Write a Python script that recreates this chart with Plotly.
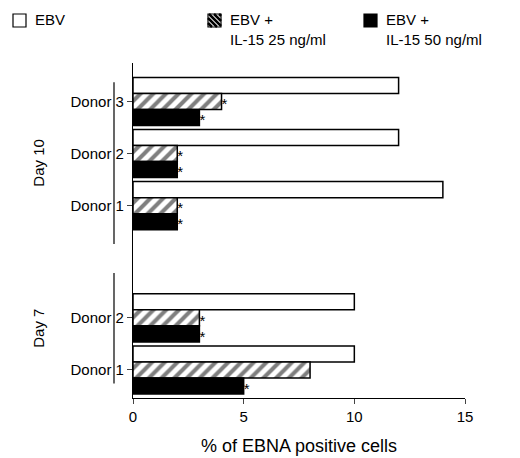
import plotly.graph_objects as go

# bottom to top: Day 7 Donor 1, Day 7 Donor 2, Day 10 Donor 1, Donor 2, Donor 3
donors = ["Donor 1", "Donor 2", "Donor 1", "Donor 2", "Donor 3"]
ebv = [10, 10, 14, 12, 12]
il15_25 = [8, 3, 2, 2, 4]
il15_50 = [5, 3, 2, 2, 3]
star_25 = [False, True, True, True, True]
star_50 = [True, True, True, True, True]
legend_names = ["EBV", "EBV +<br>IL-15 25 ng/ml", "EBV +<br>IL-15 50 ng/ml"]

# group centre positions on the y axis (1 unit = one bar)
centers = [1.75, 5.0, 12.0, 15.25, 18.5]

L, T, W, H = 125, 55, 332, 335


def px(x):
    return (x - L) / W


def py(y):
    return (T + H - y) / H


fig = go.Figure()
line = dict(color="black", width=1.5)
fig.add_bar(y=[c + 1 for c in centers], x=ebv, orientation="h", width=1,
            marker=dict(color="white", line=line))
fig.add_bar(y=centers, x=il15_25, orientation="h", width=1,
            marker=dict(color="white", line=line,
                        pattern=dict(shape="/", fgcolor="black", bgcolor="white",
                                     size=9, solidity=0.45)))
fig.add_bar(y=[c - 1 for c in centers], x=il15_50, orientation="h", width=1,
            marker=dict(color="black", line=line))

sx, sy = [], []
for c, v, s in zip(centers, il15_25, star_25):
    if s:
        sx.append(v); sy.append(c - 0.25)
for c, v, s in zip(centers, il15_50, star_50):
    if s:
        sx.append(v); sy.append(c - 1.25)
fig.add_scatter(x=sx, y=sy, mode="text", text=["*"] * len(sx),
                textposition="middle right", textfont=dict(size=15, color="black"),
                hoverinfo="skip")

# Day brackets
for lab, y0, y1 in [("Day 7", 0.9, 7.8), ("Day 10", 9.6, 19.7)]:
    fig.add_shape(type="line", xref="paper", x0=px(106), x1=px(106), y0=y0, y1=y1,
                  line=dict(color="black", width=1.2))
    fig.add_annotation(xref="paper", x=px(20), y=(y0 + y1) / 2, text=lab,
                       textangle=-90, showarrow=False, font=dict(size=15, color="black"))

# hand-drawn legend
for (bx, fill), name in zip([(5, "white"), (200, "white"), (356, "black")], legend_names):
    fig.add_shape(type="rect", xref="paper", yref="paper",
                  x0=px(bx), x1=px(bx + 13), y0=py(19), y1=py(6),
                  line=dict(color="black", width=1.2), fillcolor=fill)
    fig.add_annotation(xref="paper", yref="paper", x=px(bx + 20), y=py(1),
                       xanchor="left", yanchor="top", align="left", text=name,
                       showarrow=False, font=dict(size=15, color="black"))
for k in range(4, 26, 5):
    # stripes "/" inside the box from (200,6) to (213,19)
    x0, y0 = 200 + max(0, k - 13), 19 - min(k, 13) + 0
    x1, y1 = 200 + min(k, 13), 19 - max(0, k - 13)
    fig.add_shape(type="line", xref="paper", yref="paper",
                  x0=px(x0), y0=py(19 - (k - (x0 - 200))), x1=px(x1), y1=py(19 - (k - (x1 - 200))),
                  line=dict(color="black", width=2.5))

fig.update_layout(
    width=520, height=458, barmode="overlay", showlegend=False,
    margin=dict(l=L, r=520 - L - W, t=T, b=458 - T - H, autoexpand=False),
    plot_bgcolor="white", paper_bgcolor="white",
    font=dict(family="Arial, Liberation Sans", size=15, color="black"),
    xaxis=dict(range=[0, 15], tickvals=[0, 5, 10, 15], ticks="outside",
               showline=True, linecolor="black", linewidth=1.2, showgrid=False,
               zeroline=False, title=dict(text="% of EBNA positive cells")),
    yaxis=dict(range=[0, 20.9], tickvals=centers, ticktext=donors, ticks="outside",
               showline=True, linecolor="black", linewidth=1.2, showgrid=False,
               zeroline=False),
)
fig.write_html("out.html")
